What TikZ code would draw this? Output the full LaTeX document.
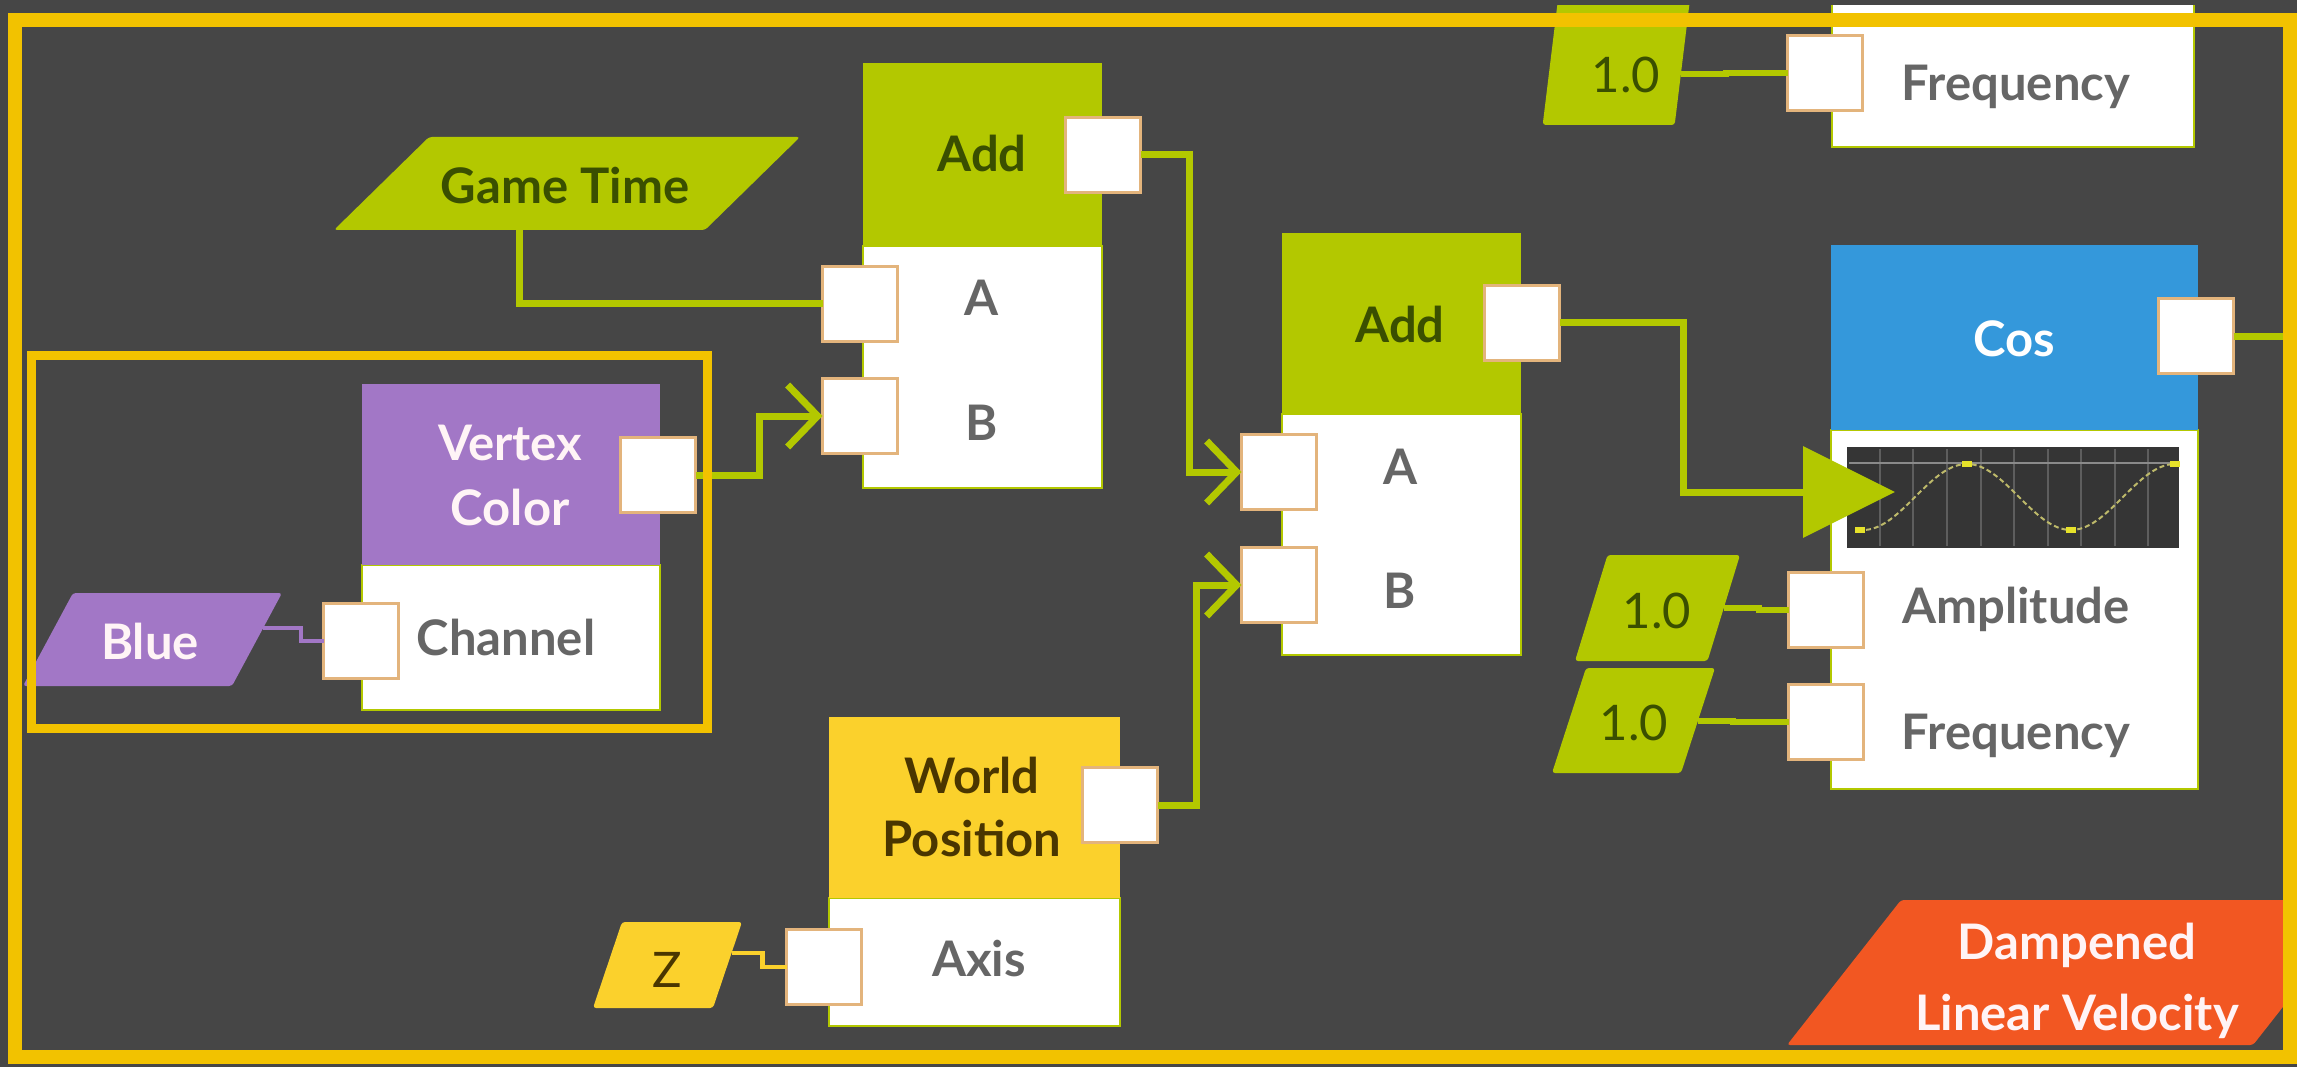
\documentclass[tikz,border=0pt]{standalone}
\usepackage{fontspec}
\setmainfont{Lato}
\usetikzlibrary{arrows.meta,calc}

\definecolor{ndBack}{HTML}{464646}
\definecolor{ndFrame}{HTML}{F2C200}
\definecolor{ndLime}{HTML}{B3C800}
\definecolor{ndLimeText}{HTML}{3A4F00}
\definecolor{ndPurple}{HTML}{A277C6}
\definecolor{ndGold}{HTML}{FBD12C}
\definecolor{ndGoldText}{HTML}{4A3600}
\definecolor{ndBlue}{HTML}{3498DB}
\definecolor{ndOrange}{HTML}{F25722}
\definecolor{ndPortEdge}{HTML}{E3B47C}
\definecolor{ndGray}{HTML}{666666}
\definecolor{ndGraph}{HTML}{353535}
\definecolor{ndGrid}{HTML}{5E5E5E}
\definecolor{ndGridLight}{HTML}{8A8A8A}
\definecolor{ndCurve}{HTML}{BDB96A}
\definecolor{ndMark}{HTML}{E6E22A}
\definecolor{ndLight}{HTML}{FFF4F6}

\tikzset{
  header/.style={rectangle, anchor=north west, inner sep=0pt, outer sep=0pt},
  bodybox/.style={rectangle, anchor=north west, fill=white, draw=ndLime, line width=2.5pt, inner sep=0pt, outer sep=0pt},
  port/.style={rectangle, fill=white, draw=ndPortEdge, line width=3pt, minimum size=75pt, inner sep=0pt, outer sep=0pt},
  paraband/.style={rectangle, inner sep=0pt, outer sep=0pt},
  lbl/.style={anchor=base, inner sep=0pt, outer sep=0pt, font=\fontsize{49}{59}\selectfont\bfseries},
  numlbl/.style={anchor=base, inner sep=0pt, outer sep=0pt, font=\fontsize{49}{59}\selectfont, text=ndLimeText},
  wire/.style={draw=ndLime, line width=7pt},
  valwire/.style={draw=ndLime, line width=6pt},
  thinwire/.style={line width=4.5pt},
  chevron/.style={-{Straight Barb[length=30pt, width=62pt]}},
  bigtip/.style={-{Triangle[length=92pt, width=90pt]}},
}

% slanted input tag: name, centre x, centre y, middle width, height, slant, colour
\newcommand{\slantTag}[7]{%
  \node[paraband, minimum width=#4pt, minimum height=#5pt] (#1) at (#2,#3) {};
  \fill[#7, rounded corners=3pt]
    ($(#1.north west)+(#6/2,0)$) -- ($(#1.north east)+(#6/2,0)$) --
    ($(#1.south east)-(#6/2,0)$) -- ($(#1.south west)-(#6/2,0)$) -- cycle;
}

\begin{document}
\begin{tikzpicture}[x=1pt, y=-1pt]
\useasboundingbox (0,0) rectangle (2297,1067);
\clip (0,0) rectangle (2297,1067);
\fill[ndBack] (0,0) rectangle (2297,1067);

% ---------- Add (upper)
\node[bodybox, minimum width=239pt, minimum height=242pt] (addAbody) at (863,246) {};
\node[header, fill=ndLime, minimum width=239pt, minimum height=183pt] (addAhead) at (863,63) {};
\node[lbl, text=ndLimeText] (addAtitle) at (982,172) {Add};
\node[lbl, text=ndGray] (addAlabA) at (982,316) {A};
\node[lbl, text=ndGray] (addAlabB) at (982,440) {B};
\node[port] (addAout) at (1103,155) {};
\node[port] (addAinA) at (860,304) {};
\node[port] (addAinB) at (860,416) {};

% ---------- Add (lower)
\node[bodybox, minimum width=239pt, minimum height=241pt] (addBbody) at (1282,414) {};
\node[header, fill=ndLime, minimum width=239pt, minimum height=181pt] (addBhead) at (1282,233) {};
\node[lbl, text=ndLimeText] (addBtitle) at (1400,342) {Add};
\node[lbl, text=ndGray] (addBlabA) at (1400,484) {A};
\node[lbl, text=ndGray] (addBlabB) at (1400,608) {B};
\node[port] (addBout) at (1522,323) {};
\node[port] (addBinA) at (1279,472) {};
\node[port] (addBinB) at (1279,585) {};

% ---------- Vertex Color
\node[bodybox, minimum width=298pt, minimum height=145pt] (vcbody) at (362,565) {};
\node[header, fill=ndPurple, minimum width=298pt, minimum height=181pt] (vchead) at (362,384) {};
\node[lbl, text=ndLight] (vctitleA) at (510,460) {Vertex};
\node[lbl, text=ndLight] (vctitleB) at (510,525) {Color};
\node[lbl, text=ndGray] (vcchannel) at (506,655) {Channel};
\node[port] (vcout) at (658,475) {};
\node[port] (vcin) at (361,641) {};

% ---------- World Position
\node[bodybox, minimum width=291pt, minimum height=128pt] (wpbody) at (829,898) {};
\node[header, fill=ndGold, minimum width=291pt, minimum height=181pt] (wphead) at (829,717) {};
\node[lbl, text=ndGoldText] (wptitleA) at (972,793) {World};
\node[lbl, text=ndGoldText] (wptitleB) at (972,856) {Position};
\node[lbl, text=ndGray] (wpaxis) at (979,976) {Axis};
\node[port] (wpout) at (1120,805) {};
\node[port] (wpin) at (824,967) {};

% ---------- Cos
\node[bodybox, minimum width=367pt, minimum height=359pt] (cosbody) at (1831,430) {};
\node[header, fill=ndBlue, minimum width=367pt, minimum height=185pt] (coshead) at (1831,245) {};
\node[lbl, text=white] (costitle) at (2014,356) {Cos};
\node[lbl, text=ndGray] (cosamp) at (2016,623) {Amplitude};
\node[lbl, text=ndGray] (cosfreq) at (2016,749) {Frequency};
\node[port] (cosout) at (2196,336) {};
\node[port] (cosinA) at (1826,610) {};
\node[port] (cosinF) at (1826,722) {};
% preview curve
\node[rectangle, anchor=north west, fill=ndGraph, inner sep=0pt, outer sep=0pt,
      minimum width=332pt, minimum height=101pt] (cosplot) at (1847,447) {};
\foreach \gx in {1880,1913,1947,1981,2014,2048,2081,2115,2148}
  \draw[ndGrid, line width=1.5pt] (\gx,449) -- (\gx,546);
\draw[ndGridLight, line width=1.5pt] (1849,463) -- (2177,463);
\draw[ndCurve, line width=2pt, dash pattern=on 5pt off 3pt]
  plot[domain=1858:2177, samples=100] (\x,{497-33*cos((\x-1967)*1.7308)});
\foreach \mx/\my in {1860/530, 1967/464, 2071/530, 2175/464}
  \fill[ndMark] (\mx-5,\my-3) rectangle (\mx+5,\my+3);

% ---------- node cut by the top edge
\node[bodybox, minimum width=362pt, minimum height=187pt] (topbody) at (1832,-40) {};
\node[lbl, text=ndGray] (topfreq) at (2016,101) {Frequency};
\node[port] (topin) at (1825,73) {};

% ---------- constant inputs
\slantTag{gtime}{567}{183.5}{371}{93}{95}{ndLime}
\node[lbl, text=ndLimeText] (gtimetext) at (565,204) {Game Time};
\slantTag{blue}{152.5}{639.5}{209}{93}{50}{ndPurple}
\node[lbl, text=ndLight] (bluetext) at (150,659) {Blue};
\slantTag{zaxis}{667.5}{965}{120}{86}{29}{ndGold}
\node[lbl, text=ndGoldText, font=\fontsize{49}{59}\selectfont] (zaxistext) at (667,987) {Z};
\slantTag{ampval}{1657.5}{608}{132.5}{106}{32.5}{ndLime}
\node[numlbl] (ampvaltext) at (1657,628) {1.0};
\slantTag{freqval}{1633.5}{720.5}{129}{105}{34}{ndLime}
\node[numlbl] (freqvaltext) at (1634,740) {1.0};
\slantTag{topval}{1617.5}{52.5}{132}{145}{17.7}{ndLime}
\node[numlbl] (topvaltext) at (1626,93) {1.0};

% ---------- title tag
\slantTag{damp}{2077}{972.5}{466}{145}{114}{ndOrange}
\node[lbl, text=ndLight] (damptextA) at (2077,959) {Dampened};
\node[lbl, text=ndLight] (damptextB) at (2077,1030) {Linear Velocity};

% ---------- connections
\draw[wire] ($(gtime.south)-(47.5,0)$) |- (addAinA.west);
\draw[wire, chevron] (vcout.east) -- ++(64,0) |- (addAinB.west);
\draw[wire, chevron] (addAout.east) -- ++(49,0) |- (addBinA.west);
\draw[wire, chevron] (wpout.east) -- ++(39,0) |- (addBinB.west);
\coordinate (costarget) at (1895,492);
\draw[wire, bigtip] (addBout.east) -- ++(124,0) |- (costarget);
\coordinate (cosexit) at (2297,336);
\draw[wire] (cosout.east) -- (cosexit);
\draw[ndPurple, thinwire] ($(blue.east)+(6,-11.5)$) -- ++(38,0) |- (vcin.west);
\draw[ndGold, thinwire] ($(zaxis.east)+(4,-12)$) -- ++(31,0) |- (wpin.west);
\draw[valwire] (ampval.east) -- ++(35,0) |- (cosinA.west);
\draw[valwire] (freqval.east) -- ++(35,0) |- (cosinF.west);
\draw[valwire] ($(topval.east)+(-2.6,21.5)$) -- ++(45,0) |- (topin.west);

% ---------- frames
\fill[ndBack] (0,0) rectangle (2297,5);
\draw[ndFrame, line width=9pt] (31,355.5) rectangle (707.5,728);
\draw[ndFrame, line width=14pt] (14.5,20) rectangle (2290,1057);
\end{tikzpicture}
\end{document}
